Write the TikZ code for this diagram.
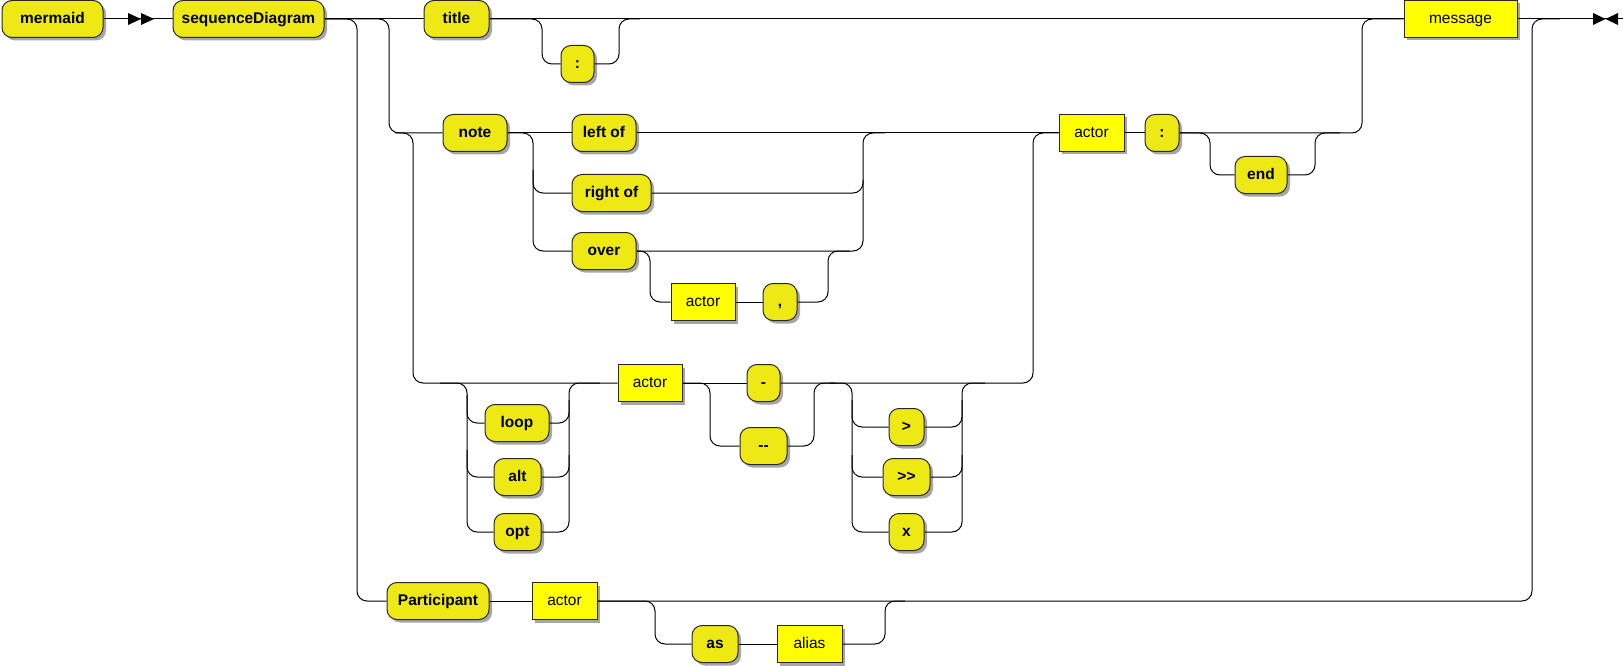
\documentclass[tikz,border=0pt]{standalone}
\usepackage{fontspec}
\setmainfont{Liberation Sans}[Ligatures=TeXOff]
\usetikzlibrary{shadows,backgrounds}
\definecolor{termfill}{RGB}{238,233,20}
\definecolor{ntfill}{RGB}{255,255,0}
\definecolor{edgecol}{RGB}{40,40,40}
\tikzset{
  box/.style={draw=edgecol, line width=1pt, minimum height=37pt, inner sep=0pt,
    text height=12pt, text depth=3pt,
    drop shadow={shadow xshift=3pt, shadow yshift=-3pt, fill=black, opacity=0.35}},
  term/.style={box, fill=termfill, rounded corners=10pt, font=\fontsize{15.5}{18}\selectfont\bfseries},
  nterm/.style={box, fill=ntfill, font=\fontsize{15.5}{18}\selectfont},
  rail/.style={line width=1pt, draw=black, rounded corners=10pt},
  tip/.style={fill=black}
}
\begin{document}
\begin{tikzpicture}[x=1pt,y=-1pt]
\useasboundingbox (0,0) rectangle (1623,666);
% top row
\node[term, minimum width=101] (mermaid) at (52.5,19) {mermaid};
\node[term, minimum width=151] (seq) at (248.5,19) {sequenceDiagram};
\node[term, minimum width=65] (title) at (456.5,19) {title};
\node[term, minimum width=33] (colon1) at (577.5,64) {:};
\node[nterm, minimum width=113] (message) at (1460.5,19) {message};
% note row
\node[term, minimum width=64] (note) at (475,133) {note};
\node[term, minimum width=64] (leftof) at (604,133) {left of};
\node[term, minimum width=79] (rightof) at (611.5,193) {right of};
\node[term, minimum width=64] (over) at (604,251) {over};
\node[nterm, minimum width=64] (actor1) at (703,302) {actor};
\node[term, minimum width=34] (comma) at (780,302) {,};
\node[nterm, minimum width=65] (actor2) at (1091.5,133) {actor};
\node[term, minimum width=34] (colon2) at (1162,133) {:};
\node[term, minimum width=52] (end) at (1261,175) {end};
% actor row
\node[term, minimum width=64] (loop) at (517,423) {loop};
\node[term, minimum width=47] (alt) at (517.5,477) {alt};
\node[term, minimum width=47] (opt) at (517.5,532) {opt};
\node[nterm, minimum width=64] (actor3) at (650,383) {actor};
\node[term, minimum width=33] (dash) at (763.5,383) {-};
\node[term, minimum width=47] (dash2) at (763.5,446) {--};
\node[term, minimum width=35] (gt) at (906.5,427) {>};
\node[term, minimum width=47] (gtgt) at (906.5,477) {>>};
\node[term, minimum width=35] (xx) at (906.5,532) {x};
% participant row
\node[term, minimum width=102] (part) at (438,601) {Participant};
\node[nterm, minimum width=65] (actor4) at (564.5,601) {actor};
\node[term, minimum width=46] (as) at (715,644) {as};
\node[nterm, minimum width=65] (alias) at (809.5,644) {alias};
\coordinate (finish) at (1623,19);

\begin{pgfonlayer}{background}
% main line
\draw[rail] (mermaid.east) -- (seq.west);
\draw[rail] (seq.east) -- (title.west);
\draw[rail] (title.east) -- (message.west);
\draw[rail] (message.east) -- (finish);
% title colon
\draw[rail] (title.east) -| (542,64) -- (colon1.west);
\draw[rail] (colon1.east) -| (619,19) -- (640,19);
% branches from seq
\draw[rail] (seq.east) -| (357,601) -- (part.west);
\draw[rail] (seq.east) -| (389,133) -- (note.west);
\draw[rail] (395,133) -| (413,383) -- (actor3.west);
% note
\draw[rail] (note.east) -- (leftof.west);
\draw[rail] (note.east) -| (533,251) -- (over.west);
\draw[rail] (533,170) |- (rightof.west);
\draw[rail] (leftof.east) -- (actor2.west);
\draw[rail] (rightof.east) -| (863,133) -- (885,133);
\draw[rail] (over.east) -| (863,180);
\draw[rail] (over.east) -| (650,302) -- (actor1.west);
\draw[rail] (actor1.east) -- (comma.west);
\draw[rail] (comma.east) -| (828,251) -- (850,251);
% actor : end
\draw[rail] (actor2.east) -- (colon2.west);
\draw[rail] (colon2.east) -| (1362,19) -- (message.west);
\draw[rail] (colon2.east) -| (1210,175) -- (end.west);
\draw[rail] (end.east) -| (1315,133) -- (1340,133);
% loop / alt / opt
\draw[rail] (440,383) -| (467,532) -- (opt.west);
\draw[rail] (467,395) |- (loop.west);
\draw[rail] (467,450) |- (alt.west);
\draw[rail] (opt.east) -| (569,383) -- (600,383);
\draw[rail] (loop.east) -| (569,400);
\draw[rail] (alt.east) -| (569,455);
% dashes
\draw[rail] (actor3.east) -- (dash.west);
\draw[rail] (actor3.east) -| (710,446) -- (dash2.west);
\draw[rail] (dash2.east) -| (814,383) -- (835,383);
\draw[rail] (dash.east) -| (1033,133) -- (actor2.west);
% arrow heads
\draw[rail] (830,383) -| (852,532) -- (xx.west);
\draw[rail] (852,400) |- (gt.west);
\draw[rail] (852,455) |- (gtgt.west);
\draw[rail] (xx.east) -| (962,383) -- (985,383);
\draw[rail] (gt.east) -| (962,400);
\draw[rail] (gtgt.east) -| (962,455);
% participant
\draw[rail] (part.east) -- (actor4.west);
\draw[rail] (actor4.east) -| (1532,19) -- (1560,19);
\draw[rail] (actor4.east) -| (655,644) -- (as.west);
\draw[rail] (as.east) -- (alias.west);
\draw[rail] (alias.east) -| (885,601) -- (905,601);
\end{pgfonlayer}
% start and end marks
\fill[tip] (128,13) -- (141,19) -- (128,25) -- cycle;
\fill[tip] (141,13) -- (154,19) -- (141,25) -- cycle;
\fill[tip] (1593,13) -- (1605.5,19) -- (1593,25) -- cycle;
\fill[tip] (1618,13) -- (1605.5,19) -- (1618,25) -- cycle;
\end{tikzpicture}
\end{document}
